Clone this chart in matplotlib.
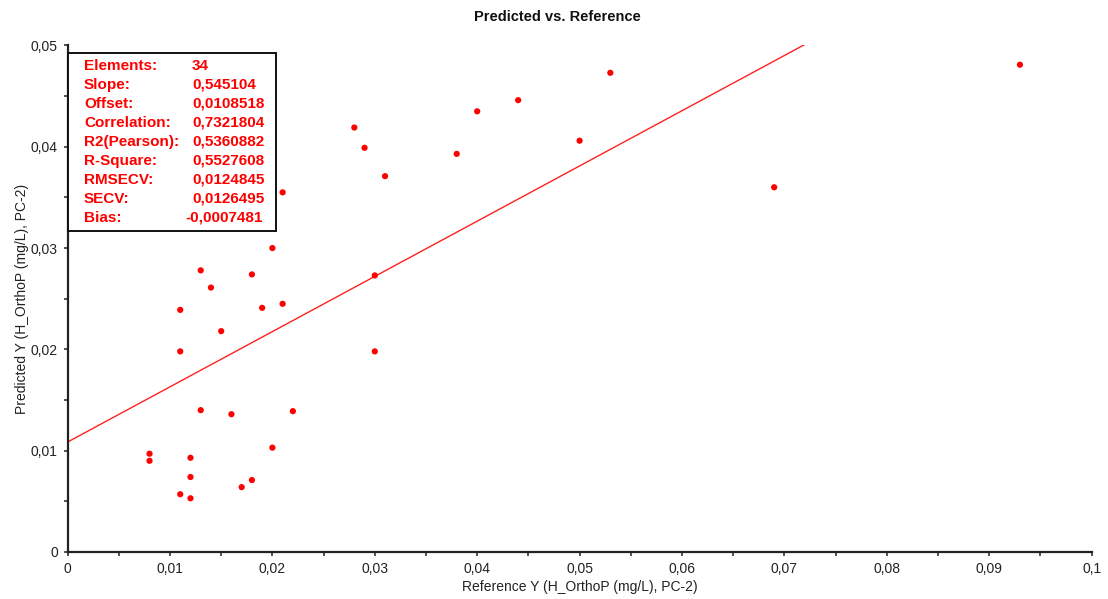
import matplotlib
matplotlib.use("Agg")
import numpy as np
import matplotlib.pyplot as plt
from matplotlib.patches import Rectangle
from matplotlib.ticker import MultipleLocator, FuncFormatter

# reference vs predicted values
reference_y = [0.008, 0.008, 0.011, 0.012, 0.012, 0.012, 0.013, 0.011, 0.011, 0.013,
               0.014, 0.015, 0.016, 0.017, 0.018, 0.018, 0.019, 0.020, 0.020, 0.021,
               0.021, 0.022, 0.028, 0.029, 0.030, 0.030, 0.031, 0.038, 0.040, 0.044,
               0.050, 0.053, 0.069, 0.093]
predicted_y = [0.0097, 0.0090, 0.0057, 0.0053, 0.0074, 0.0093, 0.0140, 0.0198, 0.0239, 0.0278,
               0.0261, 0.0218, 0.0136, 0.0064, 0.0071, 0.0274, 0.0241, 0.0103, 0.0300, 0.0245,
               0.0355, 0.0139, 0.0419, 0.0399, 0.0273, 0.0198, 0.0371, 0.0393, 0.0435, 0.0446,
               0.0406, 0.0473, 0.0360, 0.0481]

slope = 0.545104
offset = 0.0108518

stat_labels = ["Elements:", "Slope:", "Offset:", "Correlation:", "R2(Pearson):",
               "R-Square:", "RMSECV:", "SECV:", "Bias:"]
stat_values = ["34", "0,545104", "0,0108518", "0,7321804", "0,5360882",
               "0,5527608", "0,0124845", "0,0126495", "-0,0007481"]

plt.rcParams["font.family"] = ["Liberation Sans", "DejaVu Sans"]

fig = plt.figure(figsize=(11.08, 5.99), dpi=100)
ax = fig.add_axes([0.0610, 0.0785, 0.9242, 0.8456])

# regression line across the full range, clipped by the axes
line_x = np.array([0.0, 0.1])
ax.plot(line_x, offset + slope * line_x, color="#ff2020", lw=1.0, zorder=2)
ax.scatter(reference_y, predicted_y, s=20, color="#ff0000", edgecolors="none", zorder=3)

ax.set_xlim(0, 0.1)
ax.set_ylim(0, 0.05)

fmt = FuncFormatter(lambda v, pos: f"{v:g}".replace(".", ","))
ax.xaxis.set_major_locator(MultipleLocator(0.01))
ax.xaxis.set_minor_locator(MultipleLocator(0.005))
ax.yaxis.set_major_locator(MultipleLocator(0.01))
ax.yaxis.set_minor_locator(MultipleLocator(0.005))
ax.xaxis.set_major_formatter(fmt)
ax.yaxis.set_major_formatter(fmt)

for side in ["top", "right"]:
    ax.spines[side].set_visible(False)
for side in ["left", "bottom"]:
    ax.spines[side].set_linewidth(1.6)
    ax.spines[side].set_color("#222222")

ax.tick_params(which="both", direction="out", length=3, width=1.2, color="#333333",
               labelsize=10, labelcolor="#222222", pad=4)

ax.set_xlabel("Reference Y (H_OrthoP (mg/L), PC-2)", fontsize=10, color="#222222", labelpad=3)
ax.set_ylabel("Predicted Y (H_OrthoP (mg/L), PC-2)", fontsize=10, color="#222222", labelpad=1)

fig.text(557.5 / 1108, 1 - 17 / 599, "Predicted vs. Reference", ha="center", va="center",
         fontsize=10.5, fontweight="bold", color="#111111")

# statistics box in the top-left corner
box = Rectangle((0.0, 0.634), 0.2035, 0.351, transform=ax.transAxes, facecolor="white",
                edgecolor="#111111", lw=1.4, zorder=4, clip_on=False)
ax.add_patch(box)
for i, (lab, val) in enumerate(zip(stat_labels, stat_values)):
    y = 0.9516 - i * 0.0375
    ax.text(0.016, y, lab, transform=ax.transAxes, ha="left", va="baseline",
            fontsize=11, fontweight="bold", color="#ff0000", zorder=5)
    vx = 0.1215 - (0.0068 if val.startswith("-") else 0.0)
    ax.text(vx, y, val, transform=ax.transAxes, ha="left", va="baseline",
            fontsize=11, fontweight="bold", color="#ff0000", zorder=5)

fig.savefig("out.png", dpi=100)
